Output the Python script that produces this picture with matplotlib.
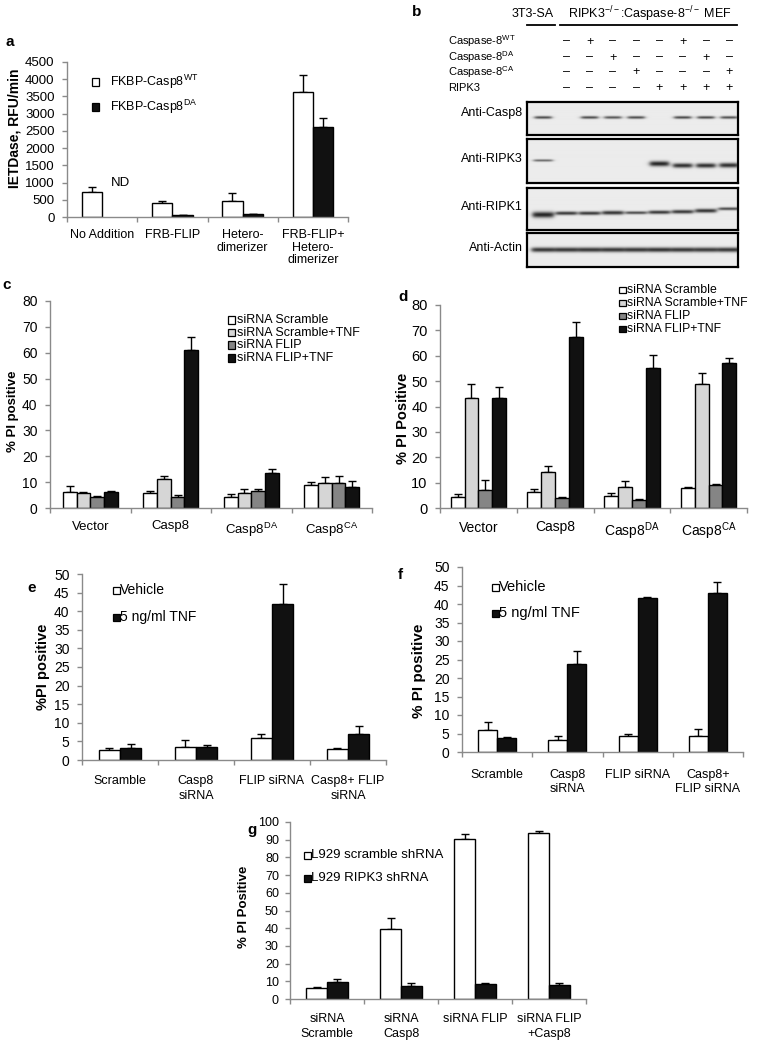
import matplotlib
matplotlib.use('Agg')
import matplotlib.pyplot as plt
import numpy as np
from matplotlib.patches import Rectangle
from matplotlib.lines import Line2D

plt.rcParams['font.family'] = ['Liberation Sans', 'DejaVu Sans']
plt.rcParams['mathtext.fontset'] = 'custom'
plt.rcParams['mathtext.rm'] = 'Liberation Sans'
plt.rcParams['mathtext.it'] = 'Liberation Sans:italic'
plt.rcParams['mathtext.bf'] = 'Liberation Sans:bold'

# ---------------- DATA ----------------
# panel a
a_categories = ['No Addition', 'FRB-FLIP', 'Hetero-\ndimerizer', 'FRB-FLIP+\nHetero-\ndimerizer']
a_series = [r'FKBP-Casp8$^{\mathrm{WT}}$', r'FKBP-Casp8$^{\mathrm{DA}}$']
a_wt = [740, 410, 460, 3640]
a_wt_err = [130, 60, 230, 490]
a_da = [np.nan, 60, 100, 2600]   # ND for "No Addition"
a_da_err = [np.nan, 0, 0, 280]

# panel b (western blot)
b_rows = [r'Caspase-8$^{\mathrm{WT}}$', r'Caspase-8$^{\mathrm{DA}}$', r'Caspase-8$^{\mathrm{CA}}$', 'RIPK3']
b_casp8_wt = ['–', '+', '–', '–', '–', '+', '–', '–']
b_casp8_da = ['–', '–', '+', '–', '–', '–', '+', '–']
b_casp8_ca = ['–', '–', '–', '+', '–', '–', '–', '+']
b_ripk3 = ['–', '–', '–', '–', '+', '+', '+', '+']
b_blots = ['Anti-Casp8', 'Anti-RIPK3', 'Anti-RIPK1', 'Anti-Actin']
b_band_casp8 = [0.80, 0.0, 0.80, 0.75, 0.80, 0.0, 0.82, 0.82, 0.78]
b_band_ripk3 = [0.65, 0.0, 0.0, 0.0, 0.0, 1.0, 0.95, 0.95, 0.95]
b_band_ripk1 = [1.0, 0.9, 0.9, 0.92, 0.8, 0.9, 0.9, 0.92, 0.8]
b_band_actin = [0.9, 0.9, 0.9, 0.9, 0.9, 0.92, 0.9, 0.88, 0.9]

# panel c
c_groups = ['Vector', 'Casp8', r'Casp8$^{\mathrm{DA}}$', r'Casp8$^{\mathrm{CA}}$']
c_series = ['siRNA Scramble', 'siRNA Scramble+TNF', 'siRNA FLIP', 'siRNA FLIP+TNF']
c_scr = [6.0, 5.7, 4.3, 9.0]
c_scr_err = [2.5, 0.8, 1.0, 1.0]
c_scr_tnf = [5.8, 11.3, 5.7, 9.5]
c_scr_tnf_err = [0.3, 1.0, 1.6, 2.5]
c_flip = [4.2, 4.2, 6.5, 9.5]
c_flip_err = [0.3, 0.8, 0.8, 3.0]
c_flip_tnf = [6.0, 61.0, 13.5, 8.3]
c_flip_tnf_err = [0.4, 5.0, 1.5, 2.0]

# panel d
d_groups = ['Vector', 'Casp8', r'Casp8$^{\mathrm{DA}}$', r'Casp8$^{\mathrm{CA}}$']
d_scr = [4.3, 6.3, 4.7, 8.0]
d_scr_err = [1.2, 1.0, 1.3, 0.3]
d_scr_tnf = [43.5, 14.3, 8.3, 49.0]
d_scr_tnf_err = [5.5, 2.2, 2.2, 4.2]
d_flip = [7.2, 4.0, 3.3, 9.2]
d_flip_err = [3.8, 0.3, 0.2, 0.3]
d_flip_tnf = [43.5, 67.5, 55.0, 57.0]
d_flip_tnf_err = [4.0, 5.8, 5.3, 2.2]

# panel e
e_categories = ['Scramble', 'Casp8\nsiRNA', 'FLIP siRNA', 'Casp8+ FLIP\nsiRNA']
e_series = ['Vehicle', '5 ng/ml TNF']
e_vehicle = [2.8, 3.5, 5.9, 3.0]
e_vehicle_err = [0.5, 2.0, 1.2, 0.3]
e_tnf = [3.3, 3.5, 42.0, 7.0]
e_tnf_err = [1.0, 0.5, 5.2, 2.2]

# panel f
f_categories = ['Scramble', 'Casp8\nsiRNA', 'FLIP siRNA', 'Casp8+\nFLIP siRNA']
f_vehicle = [5.9, 3.3, 4.4, 4.4]
f_vehicle_err = [2.1, 0.9, 0.4, 1.9]
f_tnf = [3.8, 23.9, 41.7, 43.0]
f_tnf_err = [0.2, 3.5, 0.2, 3.0]

# panel g
g_categories = ['siRNA\nScramble', 'siRNA\nCasp8', 'siRNA FLIP', 'siRNA FLIP\n+Casp8']
g_series = ['L929 scramble shRNA', 'L929 RIPK3 shRNA']
g_scr = [6.0, 39.8, 90.5, 94.0]
g_scr_err = [0.8, 5.7, 2.7, 0.8]
g_ripk3 = [9.5, 7.5, 8.2, 8.0]
g_ripk3_err = [1.7, 1.7, 0.6, 1.0]

# ---------------- STYLE ----------------
W, H = 760, 1050
WHITE, LGREY, MGREY, BLACK = '#ffffff', '#d6d6d6', '#858585', '#111111'
AXC = '#8a8a8a'

fig = plt.figure(figsize=(W / 100, H / 100), dpi=100)


def px_axes(left, top, right, bottom):
    return fig.add_axes([left / W, 1 - bottom / H, (right - left) / W, (bottom - top) / H])


def ftext(x, y, s, **kw):
    return fig.text(x / W, 1 - y / H, s, **kw)


def square(x, y, s, color):
    fig.add_artist(Rectangle((x / W, 1 - (y + s / 2) / H), s / W, s / H, transform=fig.transFigure,
                             facecolor=color, edgecolor='black', lw=0.9))


def style_axes(ax, ymax, ystep, cats, tick_fs, label_fs, pad, linespacing=1.2, ypad=5.5):
    ax.set_xlim(-0.5, len(cats) - 0.5)
    ax.set_ylim(0, ymax)
    ax.set_yticks(np.arange(0, ymax + ystep / 2, ystep))
    for s in ['top', 'right']:
        ax.spines[s].set_visible(False)
    for s in ['left', 'bottom']:
        ax.spines[s].set_color(AXC)
        ax.spines[s].set_linewidth(1.0)
    ax.tick_params(axis='y', direction='out', length=3.5, width=1, color=AXC, labelsize=tick_fs, pad=ypad)
    ax.set_xticks(np.arange(-0.5, len(cats), 1.0))
    ax.set_xticklabels([])
    ax.tick_params(axis='x', which='major', direction='out', length=3.5, width=1, color=AXC)
    ax.set_xticks(np.arange(len(cats)), cats, minor=True)
    ax.tick_params(axis='x', which='minor', length=0, labelsize=label_fs, pad=pad)
    for t in ax.get_xticklabels(minor=True):
        t.set_linespacing(linespacing)


def bars(ax, series, errs, colors, width):
    n = len(series)
    x = np.arange(len(series[0]))
    for i, (vals, err, col) in enumerate(zip(series, errs, colors)):
        off = (i - (n - 1) / 2) * width
        v = np.array(vals, dtype=float)
        e = np.array(err, dtype=float)
        m = ~np.isnan(v)
        ax.errorbar(x[m] + off, v[m], yerr=[np.zeros(m.sum()), e[m]], fmt='none', ecolor='black',
                    elinewidth=1.0, capsize=3.2, capthick=1.0, zorder=1)
        ax.bar(x[m] + off, v[m], width, color=col, edgecolor='black', linewidth=1.0, zorder=2)


# ---------------- PANEL a ----------------
ax = px_axes(67, 62, 348, 217)
style_axes(ax, 4500, 500, a_categories, 9.5, 9, 9, linespacing=1.05)
bars(ax, [a_wt, a_da], [a_wt_err, a_da_err], [WHITE, BLACK], 0.29)
ax.text(0.13, 1000, 'ND', fontsize=9.5, ha='left', va='center')
ftext(5, 42, 'a', fontsize=11, fontweight='bold', ha='left', va='center')
ftext(15, 128, 'IETDase, RFU/min', fontsize=10, fontweight='bold', rotation=90, ha='center', va='center')
for lab, col, yy in zip(a_series, [WHITE, BLACK], [82, 107]):
    square(92, yy, 7, col)
    ftext(110, yy, lab, fontsize=9, ha='left', va='center')

# ---------------- PANEL b ----------------
ftext(412, 12, 'b', fontsize=11, fontweight='bold', ha='left', va='center')
ftext(533, 14, '3T3-SA', fontsize=9, ha='center', va='center')
ftext(650, 14, r'RIPK3$^{\mathrm{-/-}}$:Caspase-8$^{\mathrm{-/-}}$ MEF', fontsize=9, ha='center', va='center')
fig.add_artist(Line2D([527 / W, 555 / W], [1 - 25 / H] * 2, color='black', lw=1.3))
fig.add_artist(Line2D([560 / W, 737 / W], [1 - 25 / H] * 2, color='black', lw=1.3))
lane_x = 543 + 23.3 * np.arange(9)
row_y = [41.5, 57.5, 72.5, 88.3]
for lab, syms, yy in zip(b_rows, [b_casp8_wt, b_casp8_da, b_casp8_ca, b_ripk3], row_y):
    ftext(448, yy, lab, fontsize=8, ha='left', va='center')
    for xx, s in zip(lane_x[1:], syms):
        ftext(xx, yy, s, fontsize=9, ha='center', va='center')

blot_boxes = [(101.5, 135), (139.5, 183), (187.5, 230), (232.5, 267)]
band_sets = [b_band_casp8, b_band_ripk3, b_band_ripk1, b_band_actin]
band_yc = [[117.7] * 9,
           [160.7, 164, 164, 164, 164, 164, 165.8, 165.8, 165.5],
           [215, 213.5, 213.5, 213, 213, 212.5, 212, 211, 209],
           [250] * 9]
band_sig = [[1.4] * 9,
            [1.2, 2.4, 2.4, 2.4, 2.4, 2.6, 2.3, 2.3, 2.4],
            [3.0, 1.8, 1.8, 2.0, 1.5, 1.8, 1.9, 2.0, 1.5],
            [2.4] * 9]
band_hw = [8.5, 9.5, 10.5, 11.5]
label_y = [113, 159, 207, 248]
for (top, bot), inten, ycs, sigs, hw, lab, ly in zip(blot_boxes, band_sets, band_yc, band_sig, band_hw, b_blots, label_y):
    bx = px_axes(527, top, 738, bot)
    xs = np.linspace(527, 738, 422)
    ys = np.linspace(top, bot, int((bot - top) * 2))
    X, Y = np.meshgrid(xs, ys)
    img = np.full(X.shape, 0.925)
    for xc, it, yc, sg in zip(lane_x, inten, ycs, sigs):
        px = 1 / (1 + np.exp((np.abs(X - xc) - hw) / 1.3))
        py = np.exp(-((Y - yc) / sg) ** 2)
        img -= it * 0.78 * px * py
    img = np.clip(img, 0.08, 1)
    bx.imshow(img, cmap='gray', vmin=0, vmax=1, extent=[527, 738, bot, top], aspect='auto',
              interpolation='bilinear')
    bx.set_xlim(527, 738)
    bx.set_ylim(bot, top)
    bx.set_xticks([])
    bx.set_yticks([])
    for s in bx.spines.values():
        s.set_linewidth(1.6)
        s.set_color('black')
    ftext(523, ly, lab, fontsize=9, ha='right', va='center')

# ---------------- PANEL c ----------------
ax = px_axes(50, 301, 372, 508)
style_axes(ax, 80, 10, c_groups, 10, 9.5, 9)
bars(ax, [c_scr, c_scr_tnf, c_flip, c_flip_tnf],
     [c_scr_err, c_scr_tnf_err, c_flip_err, c_flip_tnf_err],
     [WHITE, LGREY, MGREY, BLACK], 0.17)
ftext(2, 285, 'c', fontsize=11, fontweight='bold', ha='left', va='center')
ftext(13, 411, '% PI positive', fontsize=9.5, fontweight='bold', rotation=90, ha='center', va='center')
for lab, col, yy in zip(c_series, [WHITE, LGREY, MGREY, BLACK], [320, 332.5, 345, 358]):
    square(228, yy, 7, col)
    ftext(237, yy, lab, fontsize=9, ha='left', va='center')

# ---------------- PANEL d ----------------
ax = px_axes(440, 305, 747, 508)
style_axes(ax, 80, 10, d_groups, 10.5, 10, 9)
bars(ax, [d_scr, d_scr_tnf, d_flip, d_flip_tnf],
     [d_scr_err, d_scr_tnf_err, d_flip_err, d_flip_tnf_err],
     [WHITE, LGREY, MGREY, BLACK], 0.18)
ftext(398, 297, 'd', fontsize=11, fontweight='bold', ha='left', va='center')
ftext(403, 418, '% PI Positive', fontsize=10.5, fontweight='bold', rotation=90, ha='center', va='center')
for lab, col, yy in zip(c_series, [WHITE, LGREY, MGREY, BLACK], [290, 303, 316, 329]):
    square(619, yy, 6.5, col)
    ftext(627, yy, lab, fontsize=8.8, ha='left', va='center')

# ---------------- PANEL e ----------------
ax = px_axes(82, 574, 386, 760)
style_axes(ax, 50, 5, e_categories, 10, 9, 11, linespacing=1.25)
bars(ax, [e_vehicle, e_tnf], [e_vehicle_err, e_tnf_err], [WHITE, BLACK], 0.28)
ftext(27, 588, 'e', fontsize=11, fontweight='bold', ha='left', va='center')
ftext(43, 667, '%PI positive', fontsize=10.5, fontweight='bold', rotation=90, ha='center', va='center')
for lab, col, yy in zip(e_series, [WHITE, BLACK], [590, 617]):
    square(113, yy, 7, col)
    ftext(120, yy, lab, fontsize=10, ha='left', va='center')

# ---------------- PANEL f ----------------
ax = px_axes(462, 567, 743, 752)
style_axes(ax, 50, 5, f_categories, 10, 9, 12, linespacing=1.3)
bars(ax, [f_vehicle, f_tnf], [f_vehicle_err, f_tnf_err], [WHITE, BLACK], 0.27)
ftext(398, 575, 'f', fontsize=11, fontweight='bold', ha='left', va='center')
ftext(419, 671, '% PI positive', fontsize=11, fontweight='bold', rotation=90, ha='center', va='center')
for lab, col, yy in zip(e_series, [WHITE, BLACK], [587, 613]):
    square(492, yy, 7, col)
    ftext(499, yy, lab, fontsize=10.5, ha='left', va='center')

# ---------------- PANEL g ----------------
ax = px_axes(290, 822, 586, 999)
style_axes(ax, 100, 10, g_categories, 9, 9, 10, linespacing=1.3, ypad=4.5)
bars(ax, [g_scr, g_ripk3], [g_scr_err, g_ripk3_err], [WHITE, BLACK], 0.28)
ftext(247, 830, 'g', fontsize=11, fontweight='bold', ha='left', va='center')
ftext(244, 907, '% PI Positive', fontsize=9.5, fontweight='bold', rotation=90, ha='center', va='center')
for lab, col, yy in zip(g_series, [WHITE, BLACK], [855, 878]):
    square(304, yy, 7, col)
    ftext(311, yy, lab, fontsize=9.5, ha='left', va='center')

fig.savefig('out.png', dpi=100, facecolor='white')
